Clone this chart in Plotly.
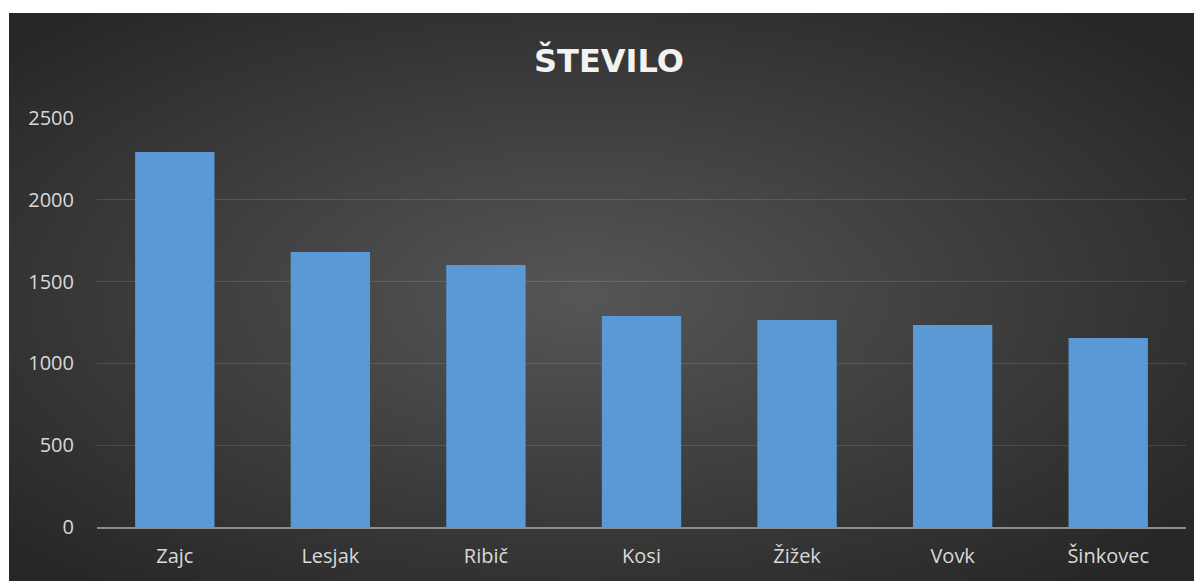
import base64
import plotly.graph_objects as go

categories = ["Zajc", "Lesjak", "Ribič", "Kosi", "Žižek", "Vovk", "Šinkovec"]
values = [2292, 1681, 1601, 1290, 1265, 1235, 1155]
y_ticks = [0, 500, 1000, 1500, 2000, 2500]

svg = """<svg xmlns='http://www.w3.org/2000/svg' width='1193' height='568' preserveAspectRatio='none'>
<defs><radialGradient id='g' cx='48%' cy='50%' r='65%' fx='48%' fy='50%'>
<stop offset='0%' stop-color='#565656'/>
<stop offset='100%' stop-color='#272727'/>
</radialGradient></defs>
<rect width='1193' height='568' fill='url(#g)'/></svg>"""
src = "data:image/svg+xml;base64," + base64.b64encode(svg.encode()).decode()

# page body has an 8px margin; figure is sized/positioned to compensate
W, H = 1194, 573
L, R, T, B = 89, 16, 110, 54
pw, ph = W - L - R, H - T - B
BX, BY = 1, 5  # start of dark chart area

fig = go.Figure(go.Bar(
    x=categories, y=values,
    marker=dict(color="#5a99d6", line=dict(width=0)),
    width=0.51,
))

fig.add_layout_image(dict(
    source=src, xref="paper", yref="paper",
    x=(BX - L) / pw, y=(H - B - BY) / ph,
    sizex=(W - BX) / pw, sizey=(H - BY) / ph,
    xanchor="left", yanchor="top", sizing="stretch", layer="below",
))

fig.update_layout(
    width=W, height=H,
    margin=dict(l=L, r=R, t=T, b=B),
    paper_bgcolor="white", plot_bgcolor="rgba(0,0,0,0)",
    title=dict(text="<b>ŠTEVILO</b>", x=(609 - 8) / W, xanchor="center",
               y=1 - (61 - 8) / H, yanchor="middle",
               font=dict(family="DejaVu Sans", size=32, color="#f2f2f2")),
    font=dict(family="Open Sans", color="#d9d9d9", size=20),
    showlegend=False,
)
fig.update_yaxes(range=[0, 2500], tickvals=y_ticks, showgrid=True,
                 gridcolor="rgba(255,255,255,0.12)", gridwidth=1,
                 zeroline=False, showline=False, ticks="", ticklabelstandoff=22,
                 tickfont=dict(size=20, color="#d9d9d9"))
fig.update_xaxes(showline=True, linecolor="#8c8c8c", linewidth=2, ticks="",
                 ticklabelstandoff=10, tickfont=dict(size=20, color="#d9d9d9"))

fig.write_html("out.html")
